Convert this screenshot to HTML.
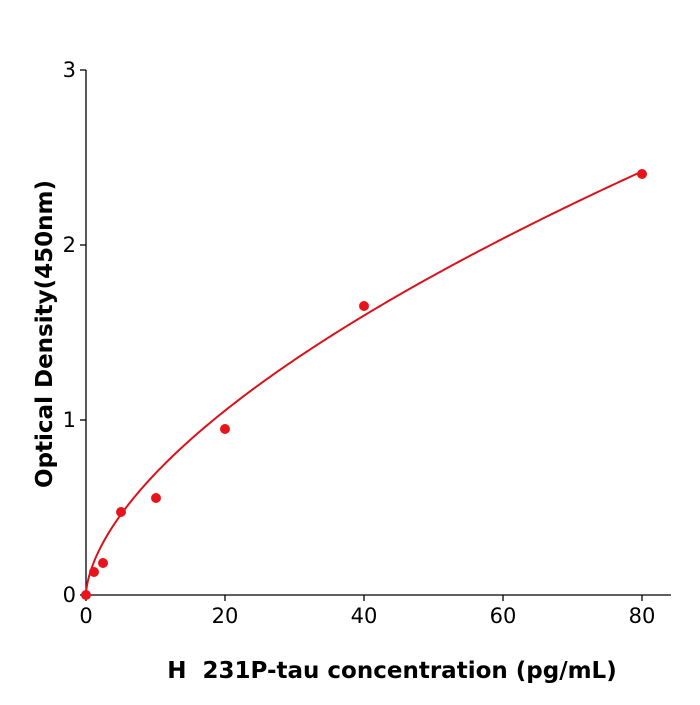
<!DOCTYPE html>
<html><head><meta charset="utf-8"><style>body{margin:0;background:#fff}</style></head><body>
<svg width="700" height="700" xmlns="http://www.w3.org/2000/svg" font-family="DejaVu Sans, Liberation Sans, sans-serif">
<rect width="700" height="700" fill="#fff"/>
<g stroke="#000" stroke-width="1.3" fill="none">
<line x1="86" y1="70" x2="86" y2="595"/>
<line x1="86" y1="595" x2="671" y2="595"/>
<line x1="80" y1="595" x2="86" y2="595"/>
<line x1="80" y1="420" x2="86" y2="420"/>
<line x1="80" y1="245" x2="86" y2="245"/>
<line x1="80" y1="70" x2="86" y2="70"/>
<line x1="86" y1="595" x2="86" y2="601"/>
<line x1="225" y1="595" x2="225" y2="601"/>
<line x1="364" y1="595" x2="364" y2="601"/>
<line x1="503" y1="595" x2="503" y2="601"/>
<line x1="642" y1="595" x2="642" y2="601"/>
</g>
<g font-size="21" fill="#000" text-anchor="end">
<text x="76" y="602">0</text><text x="76" y="427">1</text><text x="76" y="252">2</text><text x="76" y="77">3</text>
</g>
<g font-size="21" fill="#000" text-anchor="middle">
<text x="86" y="623">0</text><text x="225" y="623">20</text><text x="364" y="623">40</text><text x="503" y="623">60</text><text x="642" y="623">80</text>
</g>
<text x="392" y="678" font-size="23" font-weight="bold" text-anchor="middle">H&#160;&#160;231P-tau concentration (pg/mL)</text>
<text transform="translate(52,334) rotate(-90)" font-size="23" font-weight="bold" text-anchor="middle">Optical Density(450nm)</text>
<path id="c" fill="none" stroke="#d9121b" stroke-width="2" d=""/>
<g fill="#e8141c">
<circle cx="86" cy="595" r="5"/><circle cx="94" cy="572" r="5"/><circle cx="103" cy="563" r="5"/>
<circle cx="121" cy="512" r="5"/><circle cx="156" cy="498" r="5"/><circle cx="225" cy="429" r="5"/>
<circle cx="364" cy="306" r="5"/><circle cx="642" cy="174" r="5"/>
</g>
<script>
var d="";for(var i=0;i<=200;i++){var x=80*Math.pow(i/200,1.6);var y=0.1746*Math.pow(x,0.6);d+=(i?"L":"M")+(86+x*6.95).toFixed(2)+","+(595-y*175).toFixed(2);}
document.getElementById("c").setAttribute("d",d);
</script>
</svg>
</body></html>
